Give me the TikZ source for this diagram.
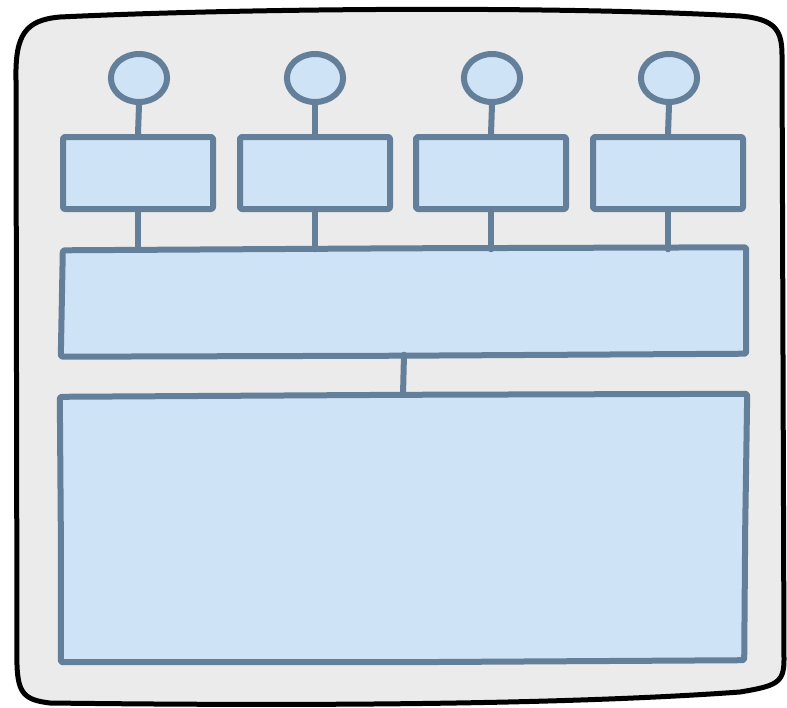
\documentclass[tikz,border=0pt]{standalone}
\usetikzlibrary{calc}
\definecolor{panelfill}{HTML}{EBEBEB}
\definecolor{boxfill}{HTML}{CFE3F7}
\definecolor{boxline}{HTML}{647F99}
\begin{document}
\begin{tikzpicture}[x=1pt,y=-1pt,
  line cap=round, line join=round,
  panel/.style={draw=black, line width=5pt, fill=panelfill},
  part/.style={fill=boxfill, draw=boxline, line width=6pt},
  edge/.style={draw=boxline, line width=6pt}]
\useasboundingbox (0,0) rectangle (787,707);
% sketched outer panel
\draw[panel] (60,17) .. controls (250,8) and (560,6) .. (740,16)
  .. controls (775,19) and (782,30) .. (782,55)
  -- (784,660) .. controls (784,683) and (776,686) .. (740,692)
  .. controls (560,705) and (300,706) .. (50,703)
  .. controls (25,700) and (18,694) .. (17,665)
  -- (16,80) .. controls (15,35) and (25,20) .. (60,17) -- cycle;
% end points (circles)
\foreach \i/\x in {1/139,2/315,3/492,4/669}{
  \node[part, circle, inner sep=0pt, xscale=1.17, minimum size=48pt] (p\i) at (\x,78) {};
}
% small boxes
\foreach \i/\x in {1/138,2/315,3/491,4/668}{
  \node[part, rounded corners=2pt, inner sep=0pt,
        minimum width=150pt, minimum height=72pt] (b\i) at (\x,173) {};
}
% wide bus box
\node[inner sep=0pt, minimum width=684pt, minimum height=105pt] (bus) at (404,302) {};
\filldraw[part, rounded corners=2pt]
  ($(bus.north west)+(1,1)$) -- ($(bus.north)+(0,-1)$) -- ($(bus.north east)+(0,-2)$)
  -- ($(bus.south east)+(0,-1)$) -- ($(bus.south)+(0,1)$) -- ($(bus.south west)+(-1,2)$) -- cycle;
% large base box
\node[inner sep=0pt, minimum width=686pt, minimum height=266pt] (base) at (403,528) {};
\filldraw[part, rounded corners=2pt]
  ($(base.north west)+(0,2)$) -- ($(base.north)+(0,0)$) -- ($(base.north east)+(1,-1)$)
  -- ($(base.east)+(-1,0)$) -- ($(base.south east)+(-2,-1)$) -- ($(base.south)+(0,1)$)
  -- ($(base.south west)+(1,1)$) -- ($(base.west)+(1,0)$) -- cycle;
% connectors
\foreach \i in {1,...,4}{
  \draw[edge] (p\i.south) -- (b\i.north);
  \draw[edge] (b\i.south) -- (b\i.south |- bus.north);
}
\draw[edge] (bus.south) -- (base.north);
\end{tikzpicture}
\end{document}
